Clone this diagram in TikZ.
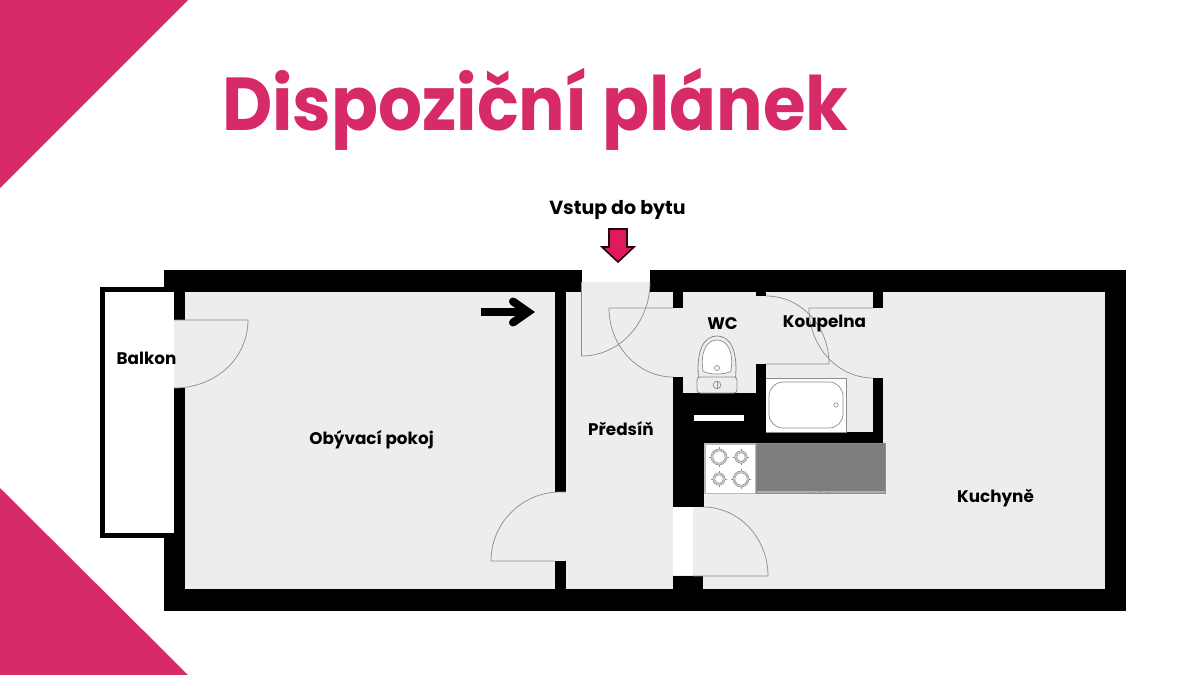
\documentclass[tikz,border=0pt]{standalone}
\usepackage{fontspec}
\setmainfont{Poppins}
\definecolor{pinkc}{HTML}{D62B68}
\definecolor{floorc}{HTML}{EDEDED}
\definecolor{linec}{HTML}{8C8C8C}
\definecolor{counterc}{HTML}{7E7E7E}
\definecolor{arrowc}{HTML}{E01A5C}
\tikzset{
  wall/.style={fill=black},
  floorfill/.style={fill=floorc},
  fine/.style={draw=linec,line width=0.7pt},
  fixture/.style={draw=linec,line width=0.8pt,fill=floorc},
  label/.style={font=\fontsize{16.8}{20}\selectfont\bfseries,text=black,inner sep=0pt},
}
\begin{document}
\begin{tikzpicture}[x=1pt,y=-1pt]
\useasboundingbox (0,0) rectangle (1200,675);
\fill[white] (0,0) rectangle (1200,675);
% corners
\fill[pinkc] (0,0) -- (188,0) -- (0,188) -- cycle;
\fill[pinkc] (0,488) -- (188,675) -- (0,675) -- cycle;
% title
\node[inner sep=0pt,anchor=base west,text=pinkc,font=\fontsize{75}{80}\selectfont\bfseries] (title) at (222,130.5) {\scalebox{0.922}[1]{Dispoziční plánek}};
% floor
\fill[floorfill] (185,292) rectangle (1105,589);
% outer walls
\fill[wall] (164,270) rectangle (581.5,292);
\fill[wall] (650,270) rectangle (1126,292);
\fill[wall] (164,589) rectangle (1126,611);
\fill[wall] (1105,270) rectangle (1126,611);
% entry threshold
\fill[floorfill] (581.5,282) rectangle (650,292);
% balcony
\fill[wall] (100,287) rectangle (174,538);
\fill[white] (105,292) rectangle (174,533);
\fill[wall] (164,533) rectangle (185,589);
\fill[wall] (174,292) rectangle (185,320);
\fill[wall] (174,388) rectangle (185,533);
\fill[floorfill] (174,320) rectangle (185,388);
% partition living/hall
\fill[wall] (554.5,292) rectangle (565.5,492);
\fill[wall] (554.5,561) rectangle (565.5,589);
% core
\fill[wall] (673,292) rectangle (683,308);
\fill[wall] (756,292) rectangle (766,296);
\fill[wall] (873,292) rectangle (883,308);
\fill[wall] (673,377) rectangle (683,393);
\fill[wall] (756,364) rectangle (766,393);
\fill[wall] (873,378) rectangle (883,443);
\fill[wall] (673,393) rectangle (766,443);
\fill[wall] (766,432) rectangle (883,443);
\fill[wall] (673,443) rectangle (704,507);
\fill[wall] (673,576) rectangle (703,589);
\fill[white] (694,415) rectangle (744,421);
% kitchen door gap
\fill[white] (673,507) rectangle (693,575);
% doors
\draw[fine] (581.5,282) -- (581.5,356) .. controls (619.6,356) and (650,323) .. (650,282);
\draw[fine] (673,308) -- (609,308) .. controls (609,346) and (638,377) .. (673,377);
\draw[fine] (766,296) .. controls (801,296) and (829,326) .. (829,364) -- (766,364);
\draw[fine] (873,308) -- (809,308) .. controls (809,347) and (838,378) .. (873,378);
\draw[fine] (174,320) -- (248,320) .. controls (248,358) and (216,388) .. (174,388);
\draw[fine] (565.5,492) -- (560,492) .. controls (522,492) and (491,523) .. (491,561) -- (554.5,561);
\draw[fine] (703,507) .. controls (739,507) and (768,538) .. (768,576) -- (693,576);
% bath
\fill[white] (766,378) rectangle (846,432);
\draw[fine] (766,378) -- (846,378) -- (846,432) -- (766,432);
\draw[fine,rounded corners=14pt] (769,382) rectangle (843,428);
\draw[fine] (836,405) circle [radius=2.2];
% toilet
\draw[fixture] (698.5,378) .. controls (696,350) and (704,336) .. (717,336) .. controls (730,336) and (738,350) .. (735.5,378) -- cycle;
\draw[fine,fill=white] (703,371) .. controls (700,351) and (707,340) .. (717,340) .. controls (727,340) and (734,351) .. (731,371) .. controls (726,375) and (708,375) .. (703,371) -- cycle;
\draw[fine] (717,368) circle [radius=2.5];
\draw[fixture,rounded corners=3pt] (697,377) rectangle (737,393);
\draw[fine] (717,385) circle [radius=3.8];
\draw[fine] (717,381.2) -- (717,388.8);
% counter
\fill[linec!70!white] (756,443) rectangle (885,493);
\fill[counterc] (756,443) rectangle (885,491);
\draw[linec,line width=0.5pt] (756,443) rectangle (885,493);
\fill[linec] (814,493) circle [radius=0.9] (821,491.5) circle [radius=0.9] (828,493) circle [radius=0.9];
% hob
\fill[linec!60!white] (704,443) rectangle (756,494);
\fill[white] (706,444.5) rectangle (755,492.5);
\foreach \cx/\cy/\r in {719/457/6.2, 741/457/4.4, 719/479/4.4, 741/479/6.2}{
  \draw[linec,line width=0.7pt] (\cx,\cy) circle [radius=\r];
  \draw[linec,line width=0.7pt] (\cx,\cy) circle [radius=\r+1.7];
  \draw[linec!50!white,line width=1pt] (\cx,\cy) circle [radius=\r+0.85];
  \draw[linec,line width=0.7pt] (\cx-\r-3.4,\cy) -- (\cx-\r-1.7,\cy) (\cx+\r+1.7,\cy) -- (\cx+\r+3.4,\cy) (\cx,\cy-\r-3.4) -- (\cx,\cy-\r-1.7) (\cx,\cy+\r+1.7) -- (\cx,\cy+\r+3.4);
}
% arrow in the living room
\draw[line width=8pt] (481,312) -- (528,312);
\draw[line width=8pt,line cap=round,line join=miter] (513,301.5) -- (528,312) -- (513,322.5);
% entry arrow
\draw[fill=arrowc,draw=black!85!arrowc,line width=1.6pt,line join=miter] (609,229) -- (627,229) -- (627,247) -- (634,247) -- (618,262) -- (602,247) -- (609,247) -- cycle;
% labels
\node[label,font=\fontsize{19}{22}\selectfont\bfseries] (vstup) at (617.5,209.5) {Vstup do bytu};
\node[label] (wc) at (722.5,323.5) {WC};
\node[label] (koupelna) at (824.5,323.5) {Koupelna};
\node[label] (balkon) at (146.5,358.5) {Balkon};
\node[label] (obyvaci) at (371.5,439.5) {Obývací pokoj};
\node[label] (predsin) at (621,429) {Předsíň};
\node[label] (kuchyne) at (995.5,498.5) {Kuchyně};
\end{tikzpicture}
\end{document}
